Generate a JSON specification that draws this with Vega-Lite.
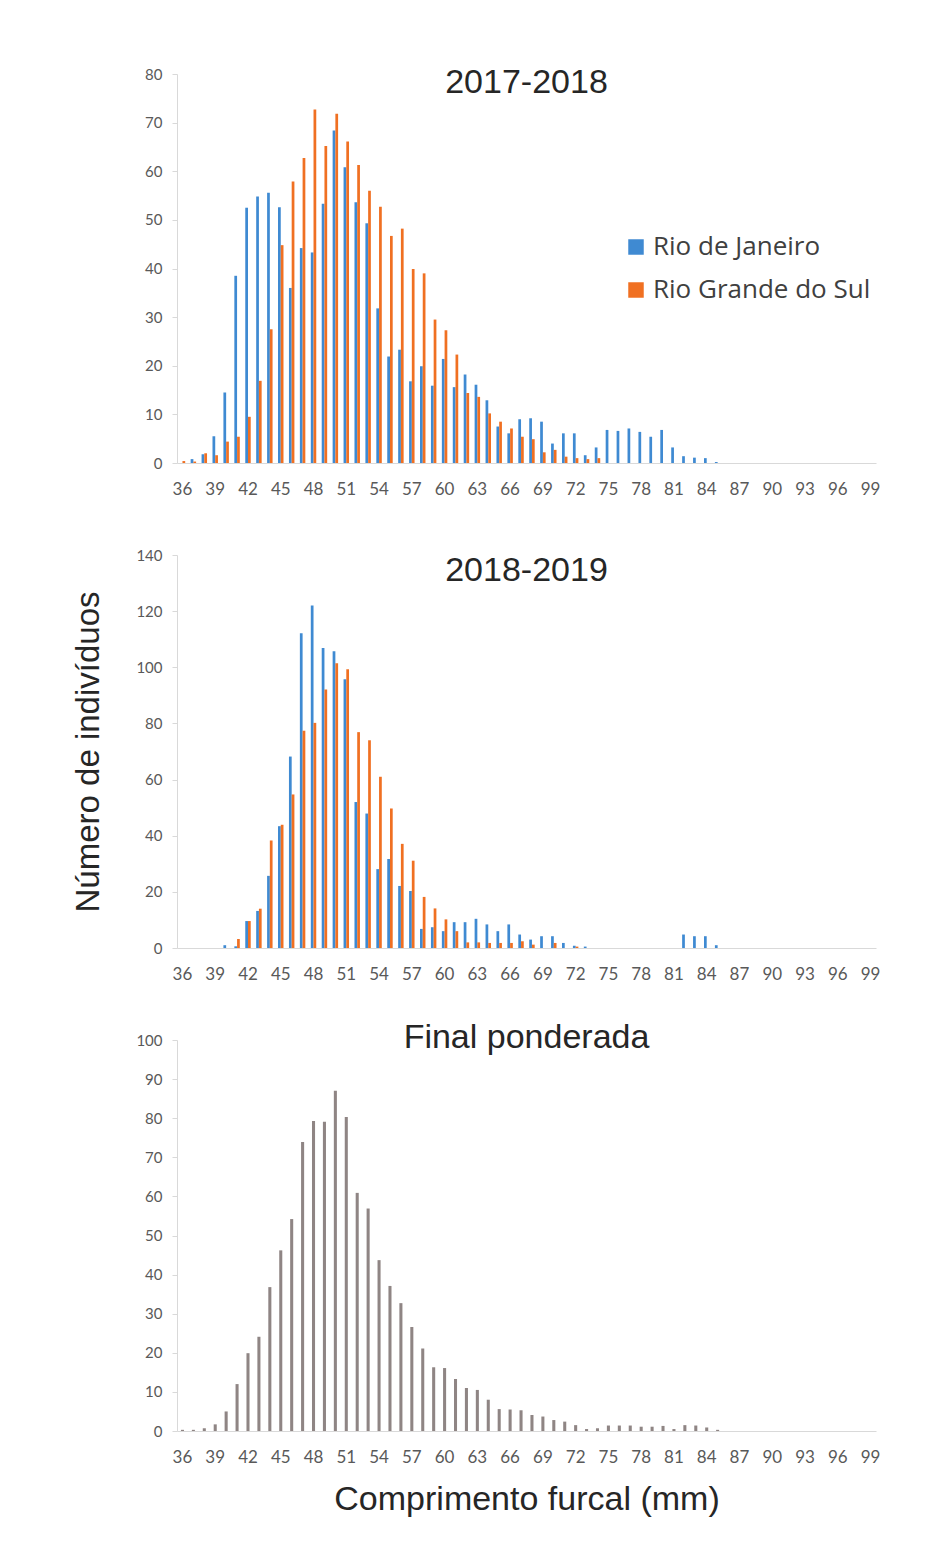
{
  "$schema": "https://vega.github.io/schema/vega-lite/v6.json",
  "background": "white",
  "padding": {"left": 72, "top": 66, "right": 10, "bottom": 10},
  "config": {
    "view": {"stroke": null},
    "axisY": {"domainColor": "#d9d9d9", "tickColor": "#d9d9d9", "tickSize": 5, "labelPadding": 10, "labelFontSize": 15, "labelColor": "#595959", "labelFont": "Lato", "grid": false},
    "axisX": {"ticks": false, "domainColor": "#d9d9d9", "labelFontSize": 17, "labelColor": "#595959", "labelFont": "Lato", "labelPadding": 18, "labelAngle": 0, "labelFlush": false, "labelOverlap": false, "grid": false},
    "title": {"font": "Liberation Sans", "fontSize": 34, "fontWeight": "normal", "color": "#262626", "anchor": "middle", "frame": "group", "baseline": "alphabetic"}
  },
  "datasets": {
    "p1": [
      {"c": 37, "r": "Rio de Janeiro", "n": 0.8}, {"c": 38, "r": "Rio de Janeiro", "n": 1.8}, {"c": 39, "r": "Rio de Janeiro", "n": 5.5}, {"c": 40, "r": "Rio de Janeiro", "n": 14.5}, {"c": 41, "r": "Rio de Janeiro", "n": 38.5}, {"c": 42, "r": "Rio de Janeiro", "n": 52.5}, {"c": 43, "r": "Rio de Janeiro", "n": 54.8}, {"c": 44, "r": "Rio de Janeiro", "n": 55.6}, {"c": 45, "r": "Rio de Janeiro", "n": 52.6}, {"c": 46, "r": "Rio de Janeiro", "n": 36}, {"c": 47, "r": "Rio de Janeiro", "n": 44.2}, {"c": 48, "r": "Rio de Janeiro", "n": 43.3}, {"c": 49, "r": "Rio de Janeiro", "n": 53.3}, {"c": 50, "r": "Rio de Janeiro", "n": 68.4}, {"c": 51, "r": "Rio de Janeiro", "n": 60.8}, {"c": 52, "r": "Rio de Janeiro", "n": 53.6}, {"c": 53, "r": "Rio de Janeiro", "n": 49.3}, {"c": 54, "r": "Rio de Janeiro", "n": 31.8}, {"c": 55, "r": "Rio de Janeiro", "n": 21.9}, {"c": 56, "r": "Rio de Janeiro", "n": 23.3}, {"c": 57, "r": "Rio de Janeiro", "n": 16.8}, {"c": 58, "r": "Rio de Janeiro", "n": 19.9}, {"c": 59, "r": "Rio de Janeiro", "n": 15.9}, {"c": 60, "r": "Rio de Janeiro", "n": 21.4}, {"c": 61, "r": "Rio de Janeiro", "n": 15.6}, {"c": 62, "r": "Rio de Janeiro", "n": 18.2}, {"c": 63, "r": "Rio de Janeiro", "n": 16.1}, {"c": 64, "r": "Rio de Janeiro", "n": 12.9}, {"c": 65, "r": "Rio de Janeiro", "n": 7.5}, {"c": 66, "r": "Rio de Janeiro", "n": 6.1}, {"c": 67, "r": "Rio de Janeiro", "n": 9}, {"c": 68, "r": "Rio de Janeiro", "n": 9.2}, {"c": 69, "r": "Rio de Janeiro", "n": 8.5}, {"c": 70, "r": "Rio de Janeiro", "n": 4}, {"c": 71, "r": "Rio de Janeiro", "n": 6.1}, {"c": 72, "r": "Rio de Janeiro", "n": 6.1}, {"c": 73, "r": "Rio de Janeiro", "n": 1.6}, {"c": 74, "r": "Rio de Janeiro", "n": 3.2}, {"c": 75, "r": "Rio de Janeiro", "n": 6.8}, {"c": 76, "r": "Rio de Janeiro", "n": 6.6}, {"c": 77, "r": "Rio de Janeiro", "n": 7.1}, {"c": 78, "r": "Rio de Janeiro", "n": 6.4}, {"c": 79, "r": "Rio de Janeiro", "n": 5.4}, {"c": 80, "r": "Rio de Janeiro", "n": 6.8}, {"c": 81, "r": "Rio de Janeiro", "n": 3.2}, {"c": 82, "r": "Rio de Janeiro", "n": 1.4}, {"c": 83, "r": "Rio de Janeiro", "n": 1.1}, {"c": 84, "r": "Rio de Janeiro", "n": 1}, {"c": 85, "r": "Rio de Janeiro", "n": 0.2},
      {"c": 36, "r": "Rio Grande do Sul", "n": 0.4}, {"c": 37, "r": "Rio Grande do Sul", "n": 0.3}, {"c": 38, "r": "Rio Grande do Sul", "n": 2}, {"c": 39, "r": "Rio Grande do Sul", "n": 1.6}, {"c": 40, "r": "Rio Grande do Sul", "n": 4.4}, {"c": 41, "r": "Rio Grande do Sul", "n": 5.4}, {"c": 42, "r": "Rio Grande do Sul", "n": 9.5}, {"c": 43, "r": "Rio Grande do Sul", "n": 16.9}, {"c": 44, "r": "Rio Grande do Sul", "n": 27.5}, {"c": 45, "r": "Rio Grande do Sul", "n": 44.8}, {"c": 46, "r": "Rio Grande do Sul", "n": 57.9}, {"c": 47, "r": "Rio Grande do Sul", "n": 62.7}, {"c": 48, "r": "Rio Grande do Sul", "n": 72.7}, {"c": 49, "r": "Rio Grande do Sul", "n": 65.2}, {"c": 50, "r": "Rio Grande do Sul", "n": 71.8}, {"c": 51, "r": "Rio Grande do Sul", "n": 66.1}, {"c": 52, "r": "Rio Grande do Sul", "n": 61.3}, {"c": 53, "r": "Rio Grande do Sul", "n": 56}, {"c": 54, "r": "Rio Grande do Sul", "n": 52.7}, {"c": 55, "r": "Rio Grande do Sul", "n": 46.7}, {"c": 56, "r": "Rio Grande do Sul", "n": 48.2}, {"c": 57, "r": "Rio Grande do Sul", "n": 39.9}, {"c": 58, "r": "Rio Grande do Sul", "n": 39}, {"c": 59, "r": "Rio Grande do Sul", "n": 29.5}, {"c": 60, "r": "Rio Grande do Sul", "n": 27.3}, {"c": 61, "r": "Rio Grande do Sul", "n": 22.3}, {"c": 62, "r": "Rio Grande do Sul", "n": 14.4}, {"c": 63, "r": "Rio Grande do Sul", "n": 13.6}, {"c": 64, "r": "Rio Grande do Sul", "n": 10.2}, {"c": 65, "r": "Rio Grande do Sul", "n": 8.5}, {"c": 66, "r": "Rio Grande do Sul", "n": 7.1}, {"c": 67, "r": "Rio Grande do Sul", "n": 5.4}, {"c": 68, "r": "Rio Grande do Sul", "n": 4.9}, {"c": 69, "r": "Rio Grande do Sul", "n": 2.2}, {"c": 70, "r": "Rio Grande do Sul", "n": 2.7}, {"c": 71, "r": "Rio Grande do Sul", "n": 1.3}, {"c": 72, "r": "Rio Grande do Sul", "n": 1}, {"c": 73, "r": "Rio Grande do Sul", "n": 0.8}, {"c": 74, "r": "Rio Grande do Sul", "n": 1}
    ],
    "p2": [
      {"c": 40, "r": "Rio de Janeiro", "n": 1}, {"c": 41, "r": "Rio de Janeiro", "n": 0.6}, {"c": 42, "r": "Rio de Janeiro", "n": 9.6}, {"c": 43, "r": "Rio de Janeiro", "n": 13.2}, {"c": 44, "r": "Rio de Janeiro", "n": 25.7}, {"c": 45, "r": "Rio de Janeiro", "n": 43.4}, {"c": 46, "r": "Rio de Janeiro", "n": 68.2}, {"c": 47, "r": "Rio de Janeiro", "n": 112.1}, {"c": 48, "r": "Rio de Janeiro", "n": 122}, {"c": 49, "r": "Rio de Janeiro", "n": 106.9}, {"c": 50, "r": "Rio de Janeiro", "n": 105.7}, {"c": 51, "r": "Rio de Janeiro", "n": 95.7}, {"c": 52, "r": "Rio de Janeiro", "n": 52}, {"c": 53, "r": "Rio de Janeiro", "n": 47.9}, {"c": 54, "r": "Rio de Janeiro", "n": 28.1}, {"c": 55, "r": "Rio de Janeiro", "n": 31.7}, {"c": 56, "r": "Rio de Janeiro", "n": 22.1}, {"c": 57, "r": "Rio de Janeiro", "n": 20.3}, {"c": 58, "r": "Rio de Janeiro", "n": 6.8}, {"c": 59, "r": "Rio de Janeiro", "n": 7.4}, {"c": 60, "r": "Rio de Janeiro", "n": 6}, {"c": 61, "r": "Rio de Janeiro", "n": 9.2}, {"c": 62, "r": "Rio de Janeiro", "n": 9.2}, {"c": 63, "r": "Rio de Janeiro", "n": 10.4}, {"c": 64, "r": "Rio de Janeiro", "n": 8.4}, {"c": 65, "r": "Rio de Janeiro", "n": 6}, {"c": 66, "r": "Rio de Janeiro", "n": 8.4}, {"c": 67, "r": "Rio de Janeiro", "n": 4.8}, {"c": 68, "r": "Rio de Janeiro", "n": 3}, {"c": 69, "r": "Rio de Janeiro", "n": 4.2}, {"c": 70, "r": "Rio de Janeiro", "n": 4.2}, {"c": 71, "r": "Rio de Janeiro", "n": 1.8}, {"c": 72, "r": "Rio de Janeiro", "n": 0.8}, {"c": 73, "r": "Rio de Janeiro", "n": 0.5}, {"c": 82, "r": "Rio de Janeiro", "n": 4.8}, {"c": 83, "r": "Rio de Janeiro", "n": 4.2}, {"c": 84, "r": "Rio de Janeiro", "n": 4.2}, {"c": 85, "r": "Rio de Janeiro", "n": 1},
      {"c": 41, "r": "Rio Grande do Sul", "n": 3.2}, {"c": 42, "r": "Rio Grande do Sul", "n": 9.6}, {"c": 43, "r": "Rio Grande do Sul", "n": 14}, {"c": 44, "r": "Rio Grande do Sul", "n": 38.3}, {"c": 45, "r": "Rio Grande do Sul", "n": 43.9}, {"c": 46, "r": "Rio Grande do Sul", "n": 54.7}, {"c": 47, "r": "Rio Grande do Sul", "n": 77.4}, {"c": 48, "r": "Rio Grande do Sul", "n": 80.2}, {"c": 49, "r": "Rio Grande do Sul", "n": 92.1}, {"c": 50, "r": "Rio Grande do Sul", "n": 101.4}, {"c": 51, "r": "Rio Grande do Sul", "n": 99.3}, {"c": 52, "r": "Rio Grande do Sul", "n": 76.9}, {"c": 53, "r": "Rio Grande do Sul", "n": 74}, {"c": 54, "r": "Rio Grande do Sul", "n": 61}, {"c": 55, "r": "Rio Grande do Sul", "n": 49.7}, {"c": 56, "r": "Rio Grande do Sul", "n": 37.1}, {"c": 57, "r": "Rio Grande do Sul", "n": 31.1}, {"c": 58, "r": "Rio Grande do Sul", "n": 18.2}, {"c": 59, "r": "Rio Grande do Sul", "n": 14.1}, {"c": 60, "r": "Rio Grande do Sul", "n": 10.2}, {"c": 61, "r": "Rio Grande do Sul", "n": 6}, {"c": 62, "r": "Rio Grande do Sul", "n": 2}, {"c": 63, "r": "Rio Grande do Sul", "n": 2}, {"c": 64, "r": "Rio Grande do Sul", "n": 1.8}, {"c": 65, "r": "Rio Grande do Sul", "n": 1.8}, {"c": 66, "r": "Rio Grande do Sul", "n": 1.8}, {"c": 67, "r": "Rio Grande do Sul", "n": 2.4}, {"c": 68, "r": "Rio Grande do Sul", "n": 1.2}, {"c": 70, "r": "Rio Grande do Sul", "n": 1.8}, {"c": 72, "r": "Rio Grande do Sul", "n": 0.5}
    ],
    "p3": [
      {"c": 36, "n": 0.3}, {"c": 37, "n": 0.3}, {"c": 38, "n": 0.7}, {"c": 39, "n": 1.7}, {"c": 40, "n": 5}, {"c": 41, "n": 12}, {"c": 42, "n": 19.9}, {"c": 43, "n": 24.1}, {"c": 44, "n": 36.8}, {"c": 45, "n": 46.2}, {"c": 46, "n": 54.2}, {"c": 47, "n": 73.9}, {"c": 48, "n": 79.3}, {"c": 49, "n": 79.1}, {"c": 50, "n": 87}, {"c": 51, "n": 80.3}, {"c": 52, "n": 60.9}, {"c": 53, "n": 56.9}, {"c": 54, "n": 43.7}, {"c": 55, "n": 37.1}, {"c": 56, "n": 32.7}, {"c": 57, "n": 26.6}, {"c": 58, "n": 21.1}, {"c": 59, "n": 16.3}, {"c": 60, "n": 16.1}, {"c": 61, "n": 13.3}, {"c": 62, "n": 11}, {"c": 63, "n": 10.5}, {"c": 64, "n": 8}, {"c": 65, "n": 5.6}, {"c": 66, "n": 5.5}, {"c": 67, "n": 5.3}, {"c": 68, "n": 4.1}, {"c": 69, "n": 3.7}, {"c": 70, "n": 2.8}, {"c": 71, "n": 2.4}, {"c": 72, "n": 1.5}, {"c": 73, "n": 0.5}, {"c": 74, "n": 0.7}, {"c": 75, "n": 1.4}, {"c": 76, "n": 1.4}, {"c": 77, "n": 1.4}, {"c": 78, "n": 1.1}, {"c": 79, "n": 1.1}, {"c": 80, "n": 1.3}, {"c": 81, "n": 0.5}, {"c": 82, "n": 1.5}, {"c": 83, "n": 1.4}, {"c": 84, "n": 0.9}, {"c": 85, "n": 0.3}
    ]
  },
  "bounds": "flush",
  "spacing": 92,
  "resolve": {"scale": {"color": "independent", "x": "independent", "y": "independent"}, "legend": {"color": "independent"}},
  "vconcat": [
    {
      "title": {"text": "2017-2018", "offset": -33},
      "width": 699,
      "height": 389,
      "data": {"name": "p1"},
      "mark": {"type": "bar"},
      "encoding": {
        "x": {"field": "c", "type": "ordinal", "title": null,
          "scale": {"domain": [36,37,38,39,40,41,42,43,44,45,46,47,48,49,50,51,52,53,54,55,56,57,58,59,60,61,62,63,64,65,66,67,68,69,70,71,72,73,74,75,76,77,78,79,80,81,82,83,84,85,86,87,88,89,90,91,92,93,94,95,96,97,98,99], "paddingInner": 0.5, "paddingOuter": 0.25},
          "axis": {"values": [36,39,42,45,48,51,54,57,60,63,66,69,72,75,78,81,84,87,90,93,96,99]}},
        "xOffset": {"field": "r", "type": "nominal", "scale": {"domain": ["Rio de Janeiro", "Rio Grande do Sul"]}},
        "y": {"field": "n", "type": "quantitative", "title": null, "scale": {"domain": [0, 80]}, "axis": {"values": [0,10,20,30,40,50,60,70,80]}},
        "color": {"field": "r", "type": "nominal", "scale": {"domain": ["Rio de Janeiro", "Rio Grande do Sul"], "range": ["#3f8ad2", "#f07022"]},
          "legend": {"title": null, "orient": "none", "legendX": 446, "legendY": 160, "symbolType": "square", "symbolSize": 240, "symbolStrokeWidth": 0, "labelFont": "Open Sans", "labelFontSize": 26, "labelColor": "#404040", "labelOffset": 4, "rowPadding": 17, "labelLimit": 400}}
      }
    },
    {
      "title": {"text": "2018-2019", "offset": -40},
      "width": 699,
      "height": 393,
      "data": {"name": "p2"},
      "mark": {"type": "bar"},
      "encoding": {
        "x": {"field": "c", "type": "ordinal", "title": null,
          "scale": {"domain": [36,37,38,39,40,41,42,43,44,45,46,47,48,49,50,51,52,53,54,55,56,57,58,59,60,61,62,63,64,65,66,67,68,69,70,71,72,73,74,75,76,77,78,79,80,81,82,83,84,85,86,87,88,89,90,91,92,93,94,95,96,97,98,99], "paddingInner": 0.5, "paddingOuter": 0.25},
          "axis": {"values": [36,39,42,45,48,51,54,57,60,63,66,69,72,75,78,81,84,87,90,93,96,99]}},
        "xOffset": {"field": "r", "type": "nominal", "scale": {"domain": ["Rio de Janeiro", "Rio Grande do Sul"]}},
        "y": {"field": "n", "type": "quantitative", "title": "Número de indivíduos", "scale": {"domain": [0, 140]},
          "axis": {"values": [0,20,40,60,80,100,120,140], "titleFont": "Liberation Sans", "titleFontSize": 33, "titleFontWeight": "normal", "titleColor": "#262626", "titlePadding": 30}},
        "color": {"field": "r", "type": "nominal", "scale": {"domain": ["Rio de Janeiro", "Rio Grande do Sul"], "range": ["#3f8ad2", "#f07022"]}, "legend": null}
      }
    },
    {
      "title": {"text": "Final ponderada", "offset": -22},
      "width": 699,
      "height": 391,
      "data": {"name": "p3"},
      "mark": {"type": "bar", "color": "#8f8584"},
      "encoding": {
        "x": {"field": "c", "type": "ordinal", "title": "Comprimento furcal (mm)",
          "scale": {"domain": [36,37,38,39,40,41,42,43,44,45,46,47,48,49,50,51,52,53,54,55,56,57,58,59,60,61,62,63,64,65,66,67,68,69,70,71,72,73,74,75,76,77,78,79,80,81,82,83,84,85,86,87,88,89,90,91,92,93,94,95,96,97,98,99], "paddingInner": 0.72, "paddingOuter": 0.36},
          "axis": {"values": [36,39,42,45,48,51,54,57,60,63,66,69,72,75,78,81,84,87,90,93,96,99], "titleFont": "Liberation Sans", "titleFontSize": 34, "titleFontWeight": "normal", "titleColor": "#262626", "titlePadding": 17}},
        "y": {"field": "n", "type": "quantitative", "title": null, "scale": {"domain": [0, 100]}, "axis": {"values": [0,10,20,30,40,50,60,70,80,90,100]}}
      }
    }
  ]
}
